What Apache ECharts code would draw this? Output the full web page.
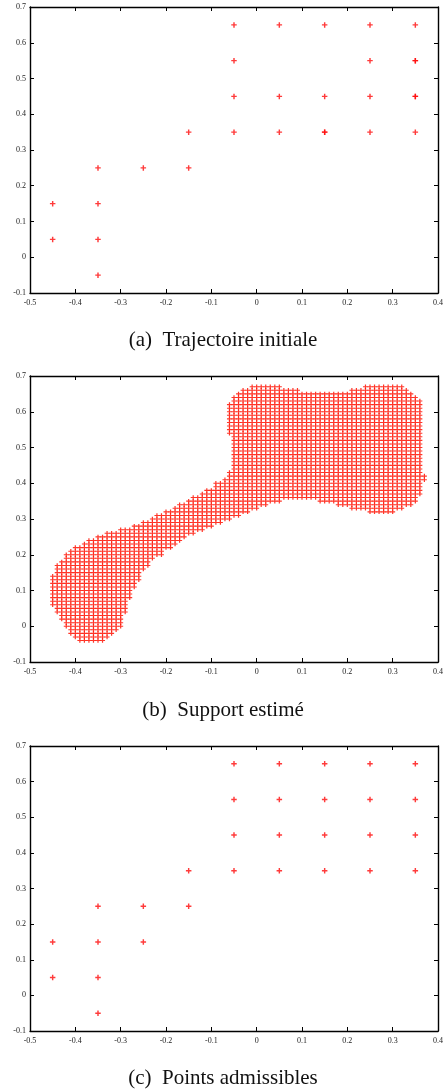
<!DOCTYPE html>
<html><head><meta charset="utf-8">
<script src="https://cdn.jsdelivr.net/npm/echarts@6/dist/echarts.min.js"></script>
<style>html,body{margin:0;padding:0;background:#fff}#c{width:446px;height:1092px}</style>
</head><body><div id="c"></div>
<script>
// ---------- data ----------
const captions = ['(a)  Trajectoire initiale', '(b)  Support estimé', '(c)  Points admissibles'];
const xMin = -0.5, xMax = 0.4, yMin = -0.1, yMax = 0.7, tickStep = 0.1;

// (a) initial trajectory points
const trajX = [-0.45,-0.45,-0.35,-0.35,-0.35,-0.35,-0.25,-0.15,-0.15,
  -0.05,-0.05,-0.05,-0.05, 0.05,0.05,0.05, 0.15,0.15,0.15,0.15,
  0.25,0.25,0.25,0.25, 0.35,0.35,0.35,0.35,0.35,0.35];
const trajY = [0.15,0.05,0.25,0.15,0.05,-0.05,0.25,0.35,0.25,
  0.65,0.55,0.45,0.35, 0.65,0.45,0.35, 0.65,0.45,0.35,0.35,
  0.65,0.55,0.45,0.35, 0.65,0.55,0.55,0.45,0.45,0.35];

// (b) estimated support: grid columns (step 0.01) as [x, lowest y, highest y]
const supportColumns = [
  [-0.45,0.06,0.14],[-0.44,0.04,0.17],[-0.43,0.02,0.18],[-0.42,0.00,0.20],
  [-0.41,-0.02,0.21],[-0.40,-0.03,0.22],[-0.39,-0.04,0.22],[-0.38,-0.04,0.23],
  [-0.37,-0.04,0.24],[-0.36,-0.04,0.24],[-0.35,-0.04,0.25],[-0.34,-0.04,0.25],
  [-0.33,-0.03,0.26],[-0.32,-0.02,0.26],[-0.31,-0.01,0.26],[-0.30,0.00,0.27],
  [-0.29,0.04,0.27],[-0.28,0.08,0.27],[-0.27,0.11,0.28],[-0.26,0.13,0.28],
  [-0.25,0.16,0.29],[-0.24,0.17,0.29],[-0.23,0.19,0.30],[-0.22,0.20,0.31],
  [-0.21,0.20,0.31],[-0.20,0.22,0.32],[-0.19,0.22,0.32],[-0.18,0.23,0.33],
  [-0.17,0.24,0.34],[-0.16,0.25,0.34],[-0.15,0.26,0.35],[-0.14,0.26,0.36],
  [-0.13,0.27,0.36],[-0.12,0.27,0.37],[-0.11,0.28,0.38],[-0.10,0.28,0.38],
  [-0.09,0.29,0.40],[-0.08,0.29,0.40],[-0.07,0.30,0.41],[-0.06,0.30,0.43],
  [-0.06,0.54,0.62],
  [-0.05,0.31,0.64],[-0.04,0.31,0.65],[-0.03,0.32,0.66],[-0.02,0.32,0.66],
  [-0.01,0.33,0.67],[0.00,0.33,0.67],[0.01,0.34,0.67],[0.02,0.34,0.67],
  [0.03,0.35,0.67],[0.04,0.35,0.67],[0.05,0.35,0.67],[0.06,0.36,0.66],
  [0.07,0.36,0.66],[0.08,0.36,0.66],[0.09,0.36,0.66],[0.10,0.36,0.65],
  [0.11,0.36,0.65],[0.12,0.36,0.65],[0.13,0.36,0.65],[0.14,0.35,0.65],
  [0.15,0.35,0.65],[0.16,0.35,0.65],[0.17,0.35,0.65],[0.18,0.34,0.65],
  [0.19,0.34,0.65],[0.20,0.34,0.65],[0.21,0.33,0.66],[0.22,0.33,0.66],
  [0.23,0.33,0.66],[0.24,0.33,0.67],[0.25,0.32,0.67],[0.26,0.32,0.67],
  [0.27,0.32,0.67],[0.28,0.32,0.67],[0.29,0.32,0.67],[0.30,0.32,0.67],
  [0.31,0.33,0.67],[0.32,0.33,0.67],[0.33,0.34,0.66],[0.34,0.34,0.65],
  [0.35,0.35,0.64],[0.36,0.37,0.63],[0.37,0.41,0.42]
];

// (c) admissible points
const admX = [-0.45,-0.45,-0.35,-0.35,-0.35,-0.35,-0.25,-0.25,-0.15,-0.15,
  -0.05,-0.05,-0.05,-0.05, 0.05,0.05,0.05,0.05, 0.15,0.15,0.15,0.15,
  0.25,0.25,0.25,0.25, 0.35,0.35,0.35,0.35];
const admY = [0.15,0.05,0.25,0.15,0.05,-0.05,0.25,0.15,0.35,0.25,
  0.65,0.55,0.45,0.35, 0.65,0.55,0.45,0.35, 0.65,0.55,0.45,0.35,
  0.65,0.55,0.45,0.35, 0.65,0.55,0.45,0.35];

// ---------- build ----------
const zip = (xs, ys) => xs.map((x, i) => [x, ys[i]]);
const supportPts = [];
supportColumns.forEach(([x, lo, hi]) => {
  for (let k = Math.round(lo * 100); k <= Math.round(hi * 100); k++) supportPts.push([x, k / 100]);
});

const grids = [
  {left: 30, top: 7, width: 408, height: 286},
  {left: 30, top: 376, width: 408, height: 286},
  {left: 30, top: 746, width: 408, height: 285}
];
const captionTops = [330, 700, 1068];

const fmt = v => String(+(+v).toFixed(1));
const lineStyle = {color: '#000', width: 1.4};
const tick = {show: true, inside: true, length: 4, lineStyle: {color: '#000', width: 1}};
const lab = {fontSize: 8, fontFamily: 'Liberation Serif', color: '#222', formatter: fmt,
  showMinLabel: true, showMaxLabel: true, hideOverlap: false};

const xAxis = [], yAxis = [];
grids.forEach((g, i) => {
  xAxis.push({type: 'value', gridIndex: i, position: 'bottom', min: xMin, max: xMax, interval: tickStep,
    axisLine: {show: true, onZero: false, lineStyle}, axisTick: tick, splitLine: {show: false},
    axisLabel: Object.assign({margin: 6}, lab)});
  xAxis.push({type: 'value', gridIndex: i, position: 'top', min: xMin, max: xMax, interval: tickStep,
    axisLine: {show: true, onZero: false, lineStyle}, axisTick: tick, splitLine: {show: false},
    axisLabel: {show: false}});
  yAxis.push({type: 'value', gridIndex: i, position: 'left', min: yMin, max: yMax, interval: tickStep,
    axisLine: {show: true, onZero: false, lineStyle}, axisTick: tick, splitLine: {show: false},
    axisLabel: Object.assign({margin: 4}, lab)});
  yAxis.push({type: 'value', gridIndex: i, position: 'right', min: yMin, max: yMax, interval: tickStep,
    axisLine: {show: true, onZero: false, lineStyle}, axisTick: tick, splitLine: {show: false},
    axisLabel: {show: false}});
});

const bigPlus = 'path://M3.7,0H6.3V3.7H10V6.3H6.3V10H3.7V6.3H0V3.7H3.7Z';
const smallPlus = 'path://M3.8,0H6.2V3.8H10V6.2H6.2V10H3.8V6.2H0V3.8H3.8Z';

const option = {
  animation: false,
  backgroundColor: '#fff',
  title: captions.map((t, i) => ({text: t, left: 'center', top: captionTops[i], padding: 0,
    textStyle: {fontFamily: 'Liberation Serif', fontSize: 21, fontWeight: 'normal', color: '#111'}})),
  grid: grids.map(g => Object.assign({containLabel: false, outerBoundsMode: 'none', show: false}, g)),
  xAxis, yAxis,
  series: [
    {type: 'scatter', xAxisIndex: 0, yAxisIndex: 0, data: zip(trajX, trajY),
      symbol: bigPlus, symbolSize: 5.5, itemStyle: {color: '#ff0a0a'}, silent: true},
    {type: 'scatter', xAxisIndex: 2, yAxisIndex: 2, data: supportPts, progressive: 0, large: false,
      symbol: smallPlus, symbolSize: [5, 4.5], itemStyle: {color: '#ff1405', opacity: 0.85}, silent: true},
    {type: 'scatter', xAxisIndex: 4, yAxisIndex: 4, data: zip(admX, admY),
      symbol: bigPlus, symbolSize: 5.5, itemStyle: {color: '#ff0a0a'}, silent: true}
  ]
};
echarts.init(document.getElementById('c'), null, {renderer: 'canvas'}).setOption(option);
</script></body></html>
